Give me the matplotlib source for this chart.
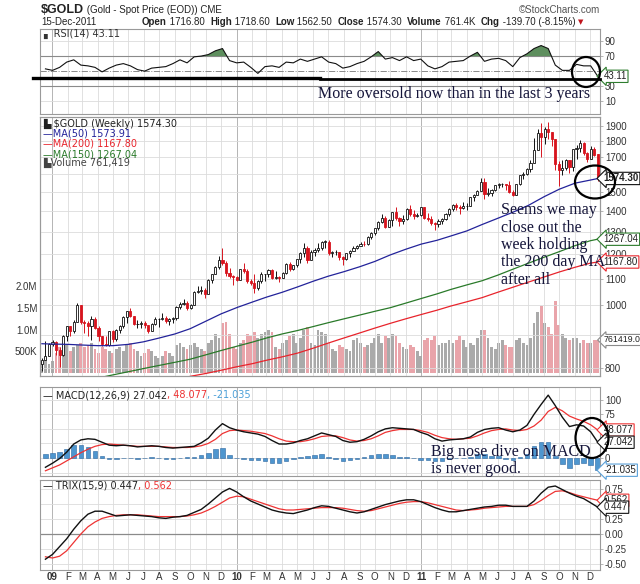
import numpy as np
import pandas as pd
import matplotlib
matplotlib.use('Agg')
import matplotlib.pyplot as plt
import matplotlib.dates as mdates
from matplotlib.patches import Ellipse
from matplotlib.lines import Line2D
from matplotlib.ticker import FixedLocator, FixedFormatter, NullLocator

# ---------------- data (weekly, Fridays, 12-Dec-2008 .. 16-Dec-2011) ----------------
first_open = 810
closes = [
    822, 836, 872,
    878, 853, 838, 897, 928,  913, 943, 1002, 942,  939, 929, 953, 923,
    898, 870, 867, 913,  887, 915, 930, 958, 979,  962, 936, 936, 940,
    931, 912, 937, 951, 954,  956, 947, 953, 955,  996, 1006, 1009, 991,
    1003, 1049, 1051, 1056, 1040,  1096, 1118, 1146, 1175,  1162, 1121, 1110, 1105,
    1097, 1138, 1131, 1090, 1083,  1063, 1091, 1118, 1118,  1134, 1103, 1106, 1103,
    1124, 1161, 1137, 1154, 1180,  1208, 1228, 1176, 1212,  1217, 1226, 1256, 1256,
    1208, 1210, 1210, 1189, 1181,  1204, 1215, 1227, 1236,  1247, 1246, 1276, 1297,
    1318, 1346, 1369, 1325, 1357,  1394, 1366, 1352, 1362,  1413, 1385, 1379, 1380, 1421,
    1369, 1360, 1343, 1340,  1350, 1360, 1388, 1410,  1430, 1421, 1419, 1428,
    1429, 1474, 1486, 1504, 1556,  1491, 1492, 1512, 1536,  1542, 1543, 1539, 1500,
    1486, 1542, 1592, 1601, 1628,  1663, 1745, 1852, 1828,  1877, 1856, 1814, 1657, 1622,
    1636, 1682, 1642, 1747,  1755, 1788, 1724, 1686,  1746, 1714, 1574.3]
highs = [
    830, 882, 875,
    885, 882, 862, 900, 930,  930, 949, 1008, 1001,  950, 945, 963, 960,
    930, 898, 895, 913,  915, 918, 932, 962, 981,  991, 960, 949, 947,
    945, 932, 940, 958, 956,  972, 964, 955, 960,  998, 1012, 1025, 1016,
    1006, 1052, 1071, 1070, 1066,  1100, 1120, 1150, 1195,  1227, 1170, 1142, 1115,
    1110, 1140, 1162, 1140, 1100,  1120, 1095, 1125, 1120,  1140, 1140, 1130, 1109,
    1128, 1163, 1166, 1157, 1182,  1212, 1249, 1235, 1218,  1227, 1250, 1261, 1265,
    1262, 1215, 1220, 1207, 1195,  1208, 1218, 1238, 1241,  1255, 1260, 1280, 1298,
    1321, 1350, 1387, 1375, 1360,  1398, 1424, 1374, 1383,  1415, 1432, 1406, 1392, 1423,
    1424, 1389, 1377, 1349,  1360, 1368, 1390, 1416,  1437, 1444, 1431, 1448,
    1440, 1475, 1488, 1509, 1577,  1575, 1523, 1515, 1539,  1547, 1551, 1546, 1560,
    1510, 1545, 1594, 1610, 1632,  1682, 1817, 1880, 1917,  1890, 1923, 1850, 1812, 1673,
    1682, 1688, 1682, 1750,  1772, 1805, 1795, 1730,  1765, 1761, 1718.6]
lows = [
    790, 822, 834,
    866, 839, 803, 835, 880,  898, 906, 942, 935,  905, 896, 885, 918,
    880, 865, 864, 866,  878, 880, 907, 924, 940,  960, 934, 922, 923,
    922, 905, 912, 934, 925,  948, 940, 934, 938,  950, 987, 1000, 985,
    986, 1000, 1044, 1040, 1026,  1040, 1085, 1117, 1140,  1155, 1110, 1104, 1076,
    1090, 1095, 1123, 1085, 1076,  1045, 1058, 1082, 1090,  1108, 1100, 1098, 1087,
    1103, 1118, 1130, 1133, 1147,  1164, 1190, 1164, 1183,  1195, 1211, 1220, 1227,
    1196, 1190, 1197, 1176, 1157,  1178, 1191, 1216, 1222,  1238, 1236, 1240, 1267,
    1286, 1310, 1343, 1318, 1322,  1330, 1358, 1330, 1340,  1356, 1378, 1360, 1370, 1376,
    1363, 1353, 1335, 1309,  1324, 1340, 1355, 1377,  1403, 1405, 1384, 1411,
    1408, 1428, 1454, 1484, 1503,  1462, 1478, 1480, 1505,  1520, 1525, 1510, 1494,
    1478, 1483, 1540, 1570, 1595,  1610, 1662, 1745, 1702,  1780, 1813, 1765, 1625, 1532,
    1595, 1625, 1603, 1618,  1690, 1730, 1710, 1667,  1685, 1705, 1562.5]
volume_k = [
    250, 300, 200,
    280, 450, 600, 700, 650,  500, 600, 650, 700,  600, 650, 700, 550,
    450, 600, 550, 500,  450, 550, 600, 500, 650,  700, 550, 500, 400,
    450, 550, 500, 400, 350,  400, 500, 450, 400,  650, 700, 600, 550,
    650, 700, 600, 550, 500,  700, 750, 900, 800,  1150, 1170, 900, 600,
    550, 700, 750, 900, 850,  950, 800, 900, 950,  1000, 950, 600, 550,
    700, 750, 850, 900, 700,  800, 1000, 1050, 700,  650, 1000, 950, 900,
    700, 550, 500, 650, 600,  550, 500, 750, 800,  700, 600, 650, 700,
    800, 900, 700, 850, 800,  900, 850, 700, 600,  550, 650, 600, 500, 400,
    750, 800, 750, 850,  650, 700, 700, 750,  700, 750, 850, 750,
    600, 700, 650, 800, 1000,  1000, 800, 600, 550,  700, 750, 650, 600,
    600, 750, 800, 700, 650,  800, 1150, 1400, 1550,  1150, 1050, 900, 1650, 1100,
    900, 800, 750, 800,  800, 700, 750, 700,  700, 750, 761.419]

# moving averages read at month starts
ma50 = [872,
        871, 870, 868, 866, 866, 870, 878, 890, 903, 920, 945, 970,
        992, 1012, 1030, 1048, 1068, 1090, 1110, 1128, 1148, 1170, 1198, 1222,
        1245, 1262, 1282, 1305, 1335, 1365, 1395, 1430, 1475, 1515, 1548, 1565,
        1573.91]
ma150 = [771, 780, 789, 798, 807, 816, 825, 838, 851,
         864, 877, 890, 903, 914, 927, 940, 953, 966, 979, 992, 1008,
         1025, 1042, 1059, 1076, 1092, 1114, 1138, 1163, 1188, 1212, 1238, 1260,
         1267.04]
ma200 = [776, 784, 793,
         803, 812, 822, 832, 843, 858, 874, 890, 906, 922, 938, 953,
         968, 983, 998, 1013, 1028, 1048, 1067, 1087, 1107, 1127, 1146, 1163,
         1167.80]

# indicators read every second week (19-Dec-2008 .. 16-Dec-2011)
rsi = [53, 51, 55, 62, 65, 58, 57, 55, 49, 54,
       58, 60, 57, 52, 50, 54, 55, 56, 60, 65,
       61, 69, 70, 72, 77, 80, 64, 61, 62, 55,
       47, 56, 57, 55, 62, 61, 66, 63, 66, 69,
       62, 60, 54, 56, 60, 63, 69, 76, 66, 68,
       64, 69, 64, 66, 57, 53, 56, 62, 63, 64,
       70, 75, 63, 66, 67, 64, 56, 68, 73, 80,
       84, 80, 58, 51, 51, 59, 57, 57, 43.11]
macd = [-16, -9, -1, 10, 24, 31, 33, 32, 27, 22,
        21, 22, 21, 19, 20, 21, 20, 18, 17, 18,
        19, 20, 26, 34, 48, 59, 52, 48, 45, 43,
        41, 37, 30, 24, 24, 26, 30, 33, 38, 43,
        40, 37, 30, 27, 28, 32, 38, 45, 50, 52,
        51, 50, 49, 44, 40, 33, 29, 31, 32, 33,
        36, 44, 49, 51, 52, 48, 45, 48, 56, 75,
        92, 108, 90, 70, 54, 57, 55, 45, 27.042]
macd_sig = [-22, -17, -12, -5, 2, 9, 15, 20, 23, 24,
            23, 22, 21, 20, 20, 20, 20, 19, 18, 18,
            18, 19, 21, 25, 32, 42, 47, 48, 47, 46,
            44, 42, 38, 33, 29, 28, 28, 30, 33, 37,
            38, 38, 35, 31, 29, 30, 33, 38, 44, 47,
            49, 49, 49, 47, 44, 39, 35, 33, 32, 33,
            34, 38, 43, 47, 49, 50, 48, 47, 49, 55,
            65, 80, 87, 81, 72, 67, 63, 57, 48.077]
trix = [-0.42, -0.34, -0.21, -0.08, 0.08, 0.22, 0.33, 0.38, 0.38, 0.34,
        0.30, 0.31, 0.32, 0.31, 0.30, 0.29, 0.27, 0.26, 0.28, 0.29,
        0.31, 0.36, 0.41, 0.50, 0.60, 0.70, 0.76, 0.70, 0.62, 0.55,
        0.50, 0.45, 0.40, 0.37, 0.35, 0.34, 0.37, 0.40, 0.44, 0.47,
        0.46, 0.43, 0.40, 0.37, 0.35, 0.37, 0.41, 0.45, 0.49, 0.52,
        0.55, 0.57, 0.57, 0.54, 0.49, 0.44, 0.40, 0.37, 0.37, 0.39,
        0.41, 0.43, 0.45, 0.46, 0.48, 0.48, 0.46, 0.46, 0.46, 0.55,
        0.68, 0.78, 0.80, 0.74, 0.68, 0.63, 0.59, 0.52, 0.447]
trix_sig = [-0.38, -0.40, -0.37, -0.28, -0.14, 0.00, 0.12, 0.20, 0.26, 0.29,
            0.31, 0.32, 0.32, 0.32, 0.31, 0.30, 0.29, 0.29, 0.29, 0.29,
            0.30, 0.32, 0.35, 0.40, 0.46, 0.53, 0.60, 0.63, 0.62, 0.58,
            0.54, 0.50, 0.46, 0.42, 0.40, 0.40, 0.41, 0.42, 0.43, 0.44,
            0.44, 0.44, 0.43, 0.41, 0.39, 0.38, 0.39, 0.42, 0.45, 0.48,
            0.51, 0.53, 0.54, 0.54, 0.52, 0.49, 0.46, 0.43, 0.40, 0.39,
            0.40, 0.41, 0.43, 0.44, 0.45, 0.46, 0.46, 0.46, 0.46, 0.49,
            0.56, 0.64, 0.71, 0.72, 0.69, 0.65, 0.62, 0.59, 0.562]

# ---------------- derived ----------------
dates = pd.date_range('2008-12-12', periods=len(closes), freq='W-FRI')
xd = mdates.date2num(dates)
c = np.array(closes, float)
o = np.r_[first_open, c[:-1]]
o[-1] = 1716.8
h = np.maximum(np.array(highs, float), np.maximum(o, c))
l = np.minimum(np.array(lows, float), np.minimum(o, c))
up = c >= o
xi = xd[1::2]
ma50_x = mdates.date2num([pd.Timestamp('2008-12-12')] +
                         list(pd.date_range('2009-01-01', '2011-12-01', freq='MS')) + [dates[-1]])
ma150_x = mdates.date2num(list(pd.date_range('2009-04-01', '2011-12-01', freq='MS')) + [dates[-1]])
ma200_x = mdates.date2num(list(pd.date_range('2009-10-01', '2011-12-01', freq='MS')) + [dates[-1]])

W, H = 640, 584
fig = plt.figure(figsize=(6.4, 5.84), dpi=100)
fig.patch.set_facecolor('white')
SANS = 'Liberation Sans'


def rect(top, bottom):
    return [40 / W, 1 - bottom / H, 560 / W, (bottom - top) / H]


def fp(x, y):
    return x / W, 1 - y / H


ax_rsi = fig.add_axes(rect(29, 114))
ax_main = fig.add_axes(rect(117, 376))
ax_vol = ax_main.twinx()
ax_macd = fig.add_axes(rect(387, 476))
ax_trix = fig.add_axes(rect(480, 570))

xmin = mdates.date2num(pd.Timestamp('2008-12-08 06:00'))
xmax = mdates.date2num(pd.Timestamp('2011-12-20 10:00'))
months = pd.date_range('2009-01-01', '2011-12-01', freq='MS')
mx = mdates.date2num(months)
mlabels = [('%02d' % (m.year % 100)) if m.month == 1 else m.strftime('%b')[0] for m in months]

for ax in (ax_rsi, ax_main, ax_vol, ax_macd, ax_trix):
    ax.set_xlim(xmin, xmax)
    for s in ax.spines.values():
        s.set_color('#9a9a9a')
        s.set_linewidth(0.8)

for ax in (ax_rsi, ax_main, ax_macd, ax_trix):
    ax.set_xticks(mx)
    ax.tick_params(axis='x', length=0, pad=1.5, labelsize=7, colors='#333333')
    ax.set_xticklabels(mlabels, fontfamily=SANS)
    for t, m in zip(ax.get_xticklabels(), months):
        if m.month == 1:
            t.set_fontweight('bold')
    for x, m in zip(mx, months):
        ax.axvline(x, color='#a8a8a8' if m.month == 1 else '#dcdcdc', lw=0.6, zorder=0)
    ax.yaxis.tick_right()
    ax.tick_params(axis='y', length=2, width=0.5, pad=1.5, labelsize=7,
                   colors='#9a9a9a', labelcolor='#333333')
ax_rsi.tick_params(labelbottom=False)
ax_macd.tick_params(labelbottom=False)


def hgrid(ax, vals, color='#dcdcdc', ls='-', lw=0.6):
    for v in vals:
        ax.axhline(v, color=color, lw=lw, ls=ls, zorder=0)


def set_yticks(ax, vals, labels):
    # labels hidden behind the value tags on the right are left empty
    ax.yaxis.set_major_locator(FixedLocator(vals))
    ax.yaxis.set_major_formatter(FixedFormatter(labels))
    ax.yaxis.set_minor_locator(NullLocator())
    for t in ax.get_yticklabels():
        t.set_fontfamily(SANS)


def tag(ax, y, text, ec, weight='normal', size=7):
    ax.annotate(text, xy=(1.0, y), xycoords=ax.get_yaxis_transform(),
                xytext=(2.5, 0), textcoords='offset points', ha='left', va='center',
                fontsize=size, fontfamily=SANS, color='#222222', fontweight=weight,
                bbox=dict(boxstyle='larrow,pad=0.12', fc='white', ec=ec, lw=0.8),
                annotation_clip=False, zorder=10)


# ---------------- RSI ----------------
ax_rsi.set_ylim(-7, 106)
set_yticks(ax_rsi, [10, 30, 50, 70, 90], ['10', '30', '', '70', '90'])
hgrid(ax_rsi, [10, 90])
hgrid(ax_rsi, [30, 70], color='#8a8a8a', lw=0.8)
hgrid(ax_rsi, [50], color='#8a8a8a', ls='-.', lw=0.7)
r = np.array(rsi, float)
ax_rsi.fill_between(xi, r, 70, where=r > 70, interpolate=True, color='#5e8f5e', lw=0, zorder=2)
ax_rsi.plot(xi, r, color='#111111', lw=0.8, zorder=3)
tag(ax_rsi, rsi[-1], '43.11', '#2e7d2e')

# ---------------- price + volume ----------------
ax_main.set_zorder(ax_vol.get_zorder() + 1)
ax_main.patch.set_visible(False)
ax_vol.set_ylim(-69, 5899)
ax_vol.yaxis.tick_left()
ax_vol.tick_params(axis='y', length=0, pad=2, labelsize=7, labelcolor='#333333')
set_yticks(ax_vol, [500, 1000, 1500, 2000], ['500K', '1.0M', '1.5M', '2.0M'])
ax_vol.set_xticks([])
vcol = np.where(up, '#aaaaaa', '#e9a4aa')
ax_vol.bar(xd, volume_k, width=5.6, color=vcol, lw=0, zorder=2)

ax_main.set_yscale('log')
ax_main.set_ylim(777, 1961)
pt = [800, 900, 1000, 1100, 1200, 1300, 1400, 1500, 1600, 1700, 1800, 1900]
set_yticks(ax_main, pt, [str(p) if p not in (900, 1600) else '' for p in pt])
hgrid(ax_main, pt)
col = np.where(up, '#111111', '#d7141e')
ax_main.vlines(xd, l, h, colors=col, lw=0.7, zorder=3)
body_lo = np.minimum(o, c)
body_h = np.maximum(np.abs(c - o), 0.8)
ax_main.bar(xd, body_h, bottom=body_lo, width=4.2, color=np.where(up, 'white', '#d7141e'),
            edgecolor=col, lw=0.6, zorder=4)
ax_main.plot(ma50_x, ma50, color='#23239a', lw=0.9, zorder=5)
ax_main.plot(ma150_x, ma150, color='#2a7a2a', lw=0.9, zorder=5)
ax_main.plot(ma200_x, ma200, color='#e8242c', lw=0.9, zorder=5)
tag(ax_main, closes[-1], '1574.30', '#111111', weight='bold')
tag(ax_main, ma150[-1], '1267.04', '#2a7a2a')
tag(ax_main, ma200[-1], '1167.80', '#e8242c')
tag(ax_vol, volume_k[-1], '761419.0', '#8a8a8a', size=6.3)

# ---------------- MACD ----------------
ax_macd.set_ylim(-31, 122)
mt = [-25, 0, 25, 50, 75, 100]
set_yticks(ax_macd, mt, ['', '0', '', '', '75', '100'])
hgrid(ax_macd, mt)
hist = np.array(macd) - np.array(macd_sig)
ax_macd.bar(xi, hist, width=9, color='#4e96cf', edgecolor='#2a66a0', lw=0.4, zorder=2)
ax_macd.plot(xi, macd_sig, color='#ee3333', lw=0.9, zorder=3)
ax_macd.plot(xi, macd, color='#111111', lw=1.0, zorder=4)
tag(ax_macd, macd_sig[-1], '48.077', '#ee3333')
tag(ax_macd, macd[-1], '27.042', '#111111')
tag(ax_macd, hist[-1], '-21.035', '#5aa0d8')

# ---------------- TRIX ----------------
ax_trix.set_ylim(-0.6, 0.9)
tt = [-0.5, -0.25, 0.0, 0.25, 0.5, 0.75]
set_yticks(ax_trix, tt, ['-0.50', '-0.25', '0.00', '0.25', '', '0.75'])
hgrid(ax_trix, tt)
ax_trix.axhline(0, color='#8a8a8a', lw=0.9, zorder=1)
ax_trix.plot(xi, trix_sig, color='#ee3333', lw=0.9, zorder=3)
ax_trix.plot(xi, trix, color='#111111', lw=1.0, zorder=4)
tag(ax_trix, trix_sig[-1], '0.562', '#ee3333')
tag(ax_trix, trix[-1], '0.447', '#111111')

# ---------------- text ----------------
renderer = fig.canvas.get_renderer()


def runs(x, y, parts, **common):
    for s, kw in parts:
        t = fig.text(*fp(x, y), s, ha='left', va='center', **{**common, **kw})
        x += t.get_window_extent(renderer).width
    return x


runs(41, 10, [('$GOLD', dict(fontsize=9, fontweight='bold')),
              (' (Gold - Spot Price (EOD)) CME', dict(fontsize=7))],
     fontfamily=SANS, color='#222222')
fig.text(*fp(600, 10), '\u00a9StockCharts.com', ha='right', va='center', fontsize=7,
         fontfamily=SANS, color='#555555')
fig.text(*fp(41, 22), '15-Dec-2011', ha='left', va='center', fontsize=7,
         fontfamily=SANS, color='#222222')
B = dict(fontweight='bold')
N = dict()
runs(142, 22, [('Open', B), (' 1716.80  ', N), ('High', B), (' 1718.60  ', N),
               ('Low', B), (' 1562.50  ', N), ('Close', B), (' 1574.30  ', N),
               ('Volume', B), (' 761.4K  ', N), ('Chg', B), (' -139.70 (-8.15%) ', N),
               ('\u25bc', dict(color='#c0141c', fontsize=5, fontfamily='DejaVu Sans'))],
     fontsize=7, fontfamily=SANS, color='#222222')

LEG = dict(fontsize=7, fontfamily='DejaVu Sans')
fig.text(*fp(43, 34), '\u2596 RSI(14) 43.11', ha='left', va='center', color='#333333', **LEG)
fig.text(*fp(43, 124), '\u2599 $GOLD (Weekly) 1574.30', ha='left', va='center', color='#222222', **LEG)
fig.text(*fp(43, 134), '\u2014MA(50) 1573.91', ha='left', va='center', color='#23239a', **LEG)
fig.text(*fp(43, 144), '\u2014MA(200) 1167.80', ha='left', va='center', color='#e8242c', **LEG)
fig.text(*fp(43, 154), '\u2014MA(150) 1267.04', ha='left', va='center', color='#2a7a2a', **LEG)
fig.text(*fp(43, 163), '\u2599Volume 761,419', ha='left', va='center', color='#444444', **LEG)
runs(43, 395, [('\u2014 MACD(12,26,9) 27.042', dict(color='#222222')),
               (', 48.077', dict(color='#ee3333')),
               (', -21.035', dict(color='#4a9fd8'))], **LEG)
runs(43, 486, [('\u2014 TRIX(15,9) 0.447', dict(color='#222222')),
               (', 0.562', dict(color='#ee3333'))], **LEG)

# ---------------- hand-drawn annotations ----------------
ink = '#15153a'
SERIF = dict(fontfamily='Liberation Serif', fontsize=11.5, color=ink, ha='left', va='center')
fig.text(*fp(318, 94), 'More oversold now than in the last 3 years', **SERIF)
for k, line in enumerate(['Seems we may', 'close out the', 'week holding',
                          'the 200 day MA', 'after all']):
    fig.text(*fp(501, 210 + 17.5 * k), line, **SERIF)
fig.text(*fp(431, 452), 'Big nose dive on MACD', **SERIF)
fig.text(*fp(431, 469), 'is never good.', **SERIF)

fig.add_artist(Line2D([33 / W, 320 / W], [1 - 77.5 / H] * 2, color='black', lw=2.4,
                      transform=fig.transFigure))
fig.add_artist(Line2D([320 / W, 600 / W], [1 - 78.5 / H] * 2, color='black', lw=2.0,
                      transform=fig.transFigure))
for cx, cy, ew, eh in [(586, 72, 28, 30), (595, 182, 40, 33), (592, 438, 33, 40)]:
    fig.add_artist(Ellipse(fp(cx, cy), ew / W, eh / H, fill=False, ec='black', lw=1.6,
                           transform=fig.transFigure, zorder=20))

fig.savefig('out.png', dpi=100)
